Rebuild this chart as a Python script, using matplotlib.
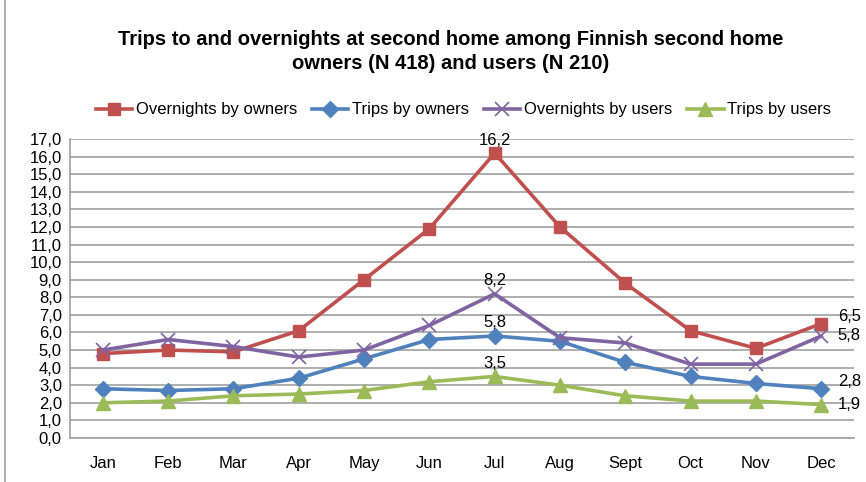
import matplotlib
matplotlib.use("Agg")
import matplotlib.pyplot as plt
from matplotlib.patches import Rectangle

months = ["Jan", "Feb", "Mar", "Apr", "May", "Jun", "Jul", "Aug", "Sept", "Oct", "Nov", "Dec"]
overnights_owners = [4.8, 5.0, 4.9, 6.1, 9.0, 11.9, 16.2, 12.0, 8.8, 6.1, 5.1, 6.5]
trips_owners = [2.8, 2.7, 2.8, 3.4, 4.5, 5.6, 5.8, 5.5, 4.3, 3.5, 3.1, 2.8]
overnights_users = [5.0, 5.6, 5.2, 4.6, 5.0, 6.4, 8.2, 5.7, 5.4, 4.2, 4.2, 5.8]
trips_users = [2.0, 2.1, 2.4, 2.5, 2.7, 3.2, 3.5, 3.0, 2.4, 2.1, 2.1, 1.9]
yticks = [i for i in range(0, 18)]

plt.rcParams['font.family'] = ['Liberation Sans', 'DejaVu Sans']

fig = plt.figure(figsize=(8.66, 4.82), dpi=100)
ax = fig.add_axes([0.081, 0.0913, 0.905, 0.6203])
fig.patches.append(Rectangle((0.006, -0.01), 1.2, 1.2, transform=fig.transFigure,
                             fill=False, edgecolor='#A0A0A0', lw=1.2))

x = list(range(len(months)))
series = [
    ("Overnights by owners", overnights_owners, '#C0504D', 's', 9),
    ("Trips by owners", trips_owners, '#4F81BD', 'D', 8),
    ("Overnights by users", overnights_users, '#8064A2', 'x', 10),
    ("Trips by users", trips_users, '#9BBB59', '^', 10),
]
for name, vals, c, m, ms in series:
    kw = dict(markeredgewidth=1.2) if m == 'x' else dict(markeredgecolor=c)
    ax.plot(x, vals, color=c, lw=2.6, marker=m, markersize=ms, label=name,
            markerfacecolor=c, **kw, zorder=3)

fs = 12
# data labels
for vals in [overnights_owners, overnights_users, trips_owners, trips_users]:
    ax.annotate(f"{vals[6]:.1f}".replace('.', ','), (6, vals[6]), xytext=(0, 4),
                textcoords='offset points', ha='center', va='bottom', fontsize=fs)
for vals, va in [(overnights_owners, 'bottom'), (overnights_users, 'center'),
                 (trips_owners, 'bottom'), (trips_users, 'center')]:
    ax.annotate(f"{vals[11]:.1f}".replace('.', ','), (11, vals[11]), xytext=(12, 0),
                textcoords='offset points', ha='left', va=va, fontsize=fs)

ax.set_xlim(-0.5, 11.5)
ax.set_ylim(0, 17)
ax.set_yticks(yticks)
ax.set_yticklabels([f"{v:.1f}".replace('.', ',') for v in yticks], fontsize=fs)
ax.set_xticks(x)
ax.set_xticklabels(months, fontsize=fs)
ax.tick_params(axis='both', length=0)
ax.tick_params(axis='x', pad=13)
ax.tick_params(axis='y', pad=6)
ax.grid(axis='y', color='#A0A0A0', lw=1.2)
ax.set_axisbelow(True)
for s in ['top', 'right']:
    ax.spines[s].set_visible(False)
for s in ['left', 'bottom']:
    ax.spines[s].set_color('#A0A0A0')
    ax.spines[s].set_linewidth(1.2)

fig.text(0.52, 0.893, "Trips to and overnights at second home among Finnish second home\nowners (N 418) and users (N 210)",
         ha='center', va='center', fontsize=14.5, fontweight='bold', linespacing=1.35)

fig.legend(loc='center', bbox_to_anchor=(0.535, 0.772), ncol=4, frameon=False, fontsize=fs,
           handlelength=2.2, handletextpad=0.2, columnspacing=0.9, borderaxespad=0)

fig.savefig("out.png", dpi=100)
